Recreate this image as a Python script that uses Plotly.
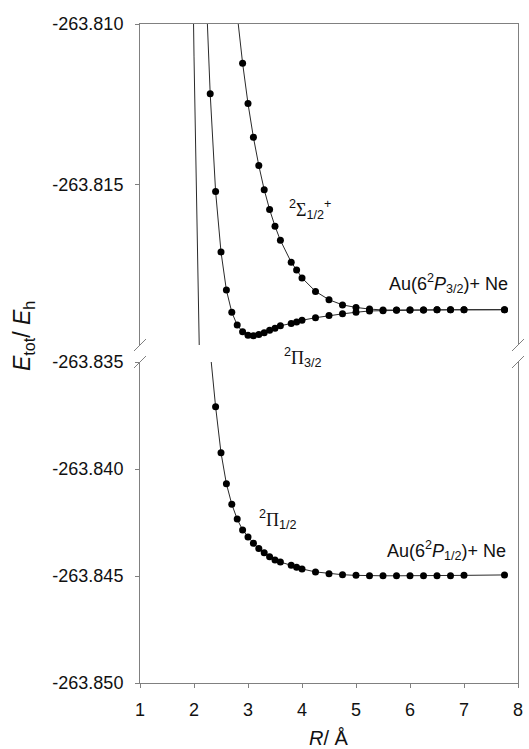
import plotly.graph_objects as go

# ---------------- data ----------------
R_pi32 = [2.3, 2.4, 2.5, 2.6, 2.7, 2.8, 2.9, 3.0, 3.1, 3.2, 3.3, 3.4, 3.5, 3.6, 3.8, 3.9, 4.0,
          4.25, 4.5, 4.75, 5.0, 5.25, 5.5, 5.75, 6.0, 6.25, 6.5, 6.75, 7.0, 7.75]
E_pi32 = [-263.81217, -263.81522, -263.81710, -263.81829, -263.81898, -263.81938, -263.81959,
          -263.81970, -263.81971, -263.81967, -263.81962, -263.81954, -263.81948, -263.81940,
          -263.81933, -263.81928, -263.81923, -263.81915, -263.81908, -263.81903, -263.81898,
          -263.81894, -263.81893, -263.81892, -263.81891, -263.81891, -263.81890, -263.81890,
          -263.81890, -263.81890]
R_pi32_wall = [2.2]
E_pi32_wall = [-263.8080]

R_sigma = [2.9, 3.0, 3.1, 3.2, 3.3, 3.4, 3.5, 3.6, 3.8, 3.9, 4.0, 4.25, 4.5, 4.75, 5.0, 5.25,
           5.5, 5.75, 6.0, 6.25, 6.5, 6.75, 7.0, 7.75]
E_sigma = [-263.81122, -263.81248, -263.81353, -263.81441, -263.81516, -263.81578, -263.81630,
           -263.81674, -263.81742, -263.81766, -263.81791, -263.81833, -263.81859, -263.81875,
           -263.81883, -263.81888, -263.81891, -263.81891, -263.81891, -263.81891, -263.81890,
           -263.81890, -263.81890, -263.81890]
R_sigma_wall = [2.8]
E_sigma_wall = [-263.8097]

R_pi12 = [2.4, 2.5, 2.6, 2.7, 2.8, 2.9, 3.0, 3.1, 3.2, 3.3, 3.4, 3.5, 3.6, 3.8, 3.9, 4.0,
          4.25, 4.5, 4.75, 5.0, 5.25, 5.5, 5.75, 6.0, 6.25, 6.5, 6.75, 7.0, 7.75]
E_pi12 = [-263.83709, -263.83924, -263.84069, -263.84165, -263.84234, -263.84285, -263.84318,
          -263.84347, -263.84371, -263.84391, -263.84410, -263.84425, -263.84435, -263.84450,
          -263.84459, -263.84467, -263.84481, -263.84489, -263.84494, -263.84497, -263.84499,
          -263.84499, -263.84499, -263.84499, -263.84499, -263.84499, -263.84499, -263.84497,
          -263.84495]
R_pi12_wall = [1.95, 2.0, 2.1, 2.2, 2.3]
E_pi12_wall = [-263.8050, -263.8110, -263.8203, -263.8286, -263.8345]

x_ticks = [1, 2, 3, 4, 5, 6, 7, 8]
x_ticktext = ["1", "2", "3", "4", "5", "6", "7", "8"]
y_top_ticks = [-263.815, -263.810]
y_top_ticktext = ["-263.815", "-263.810"]
y_bot_ticks = [-263.850, -263.845, -263.840, -263.835]
y_bot_ticktext = ["-263.850", "-263.845", "-263.840", "-263.835"]

# ---------------- figure ----------------
FONT = "Liberation Sans, Arial, sans-serif"
AXCOL = "#808080"
LINECOL = "#2a2a2a"

fig = go.Figure()

states = [
    (R_pi12_wall + R_pi12, E_pi12_wall + E_pi12, R_pi12, E_pi12),
    (R_pi32_wall + R_pi32, E_pi32_wall + E_pi32, R_pi32, E_pi32),
    (R_sigma_wall + R_sigma, E_sigma_wall + E_sigma, R_sigma, E_sigma),
]

for xa, ya in (("x", "y"), ("x2", "y2")):
    for lx, ly, mx, my in states:
        fig.add_trace(go.Scatter(x=lx, y=ly, mode="lines", xaxis=xa, yaxis=ya,
                                 line=dict(color=LINECOL, width=1), hoverinfo="skip",
                                 showlegend=False))
        fig.add_trace(go.Scatter(x=mx, y=my, mode="markers", xaxis=xa, yaxis=ya,
                                 marker=dict(color="black", size=7), showlegend=False))

top_dom = [(683 - 345) / 659, 1.0]
bot_dom = [0.0, (683 - 362) / 659]

common_y = dict(showline=True, linecolor=AXCOL, linewidth=1, mirror=True, ticks="outside",
                ticklen=4, tickcolor=AXCOL, showgrid=False, zeroline=False,
                tickfont=dict(family=FONT, size=18, color="#111"), ticklabelstandoff=8)

fig.update_layout(
    width=529, height=749,
    margin=dict(l=140, r=6, t=24, b=66),
    paper_bgcolor="white", plot_bgcolor="white",
    showlegend=False,
    font=dict(family=FONT, size=18, color="#111"),
    xaxis=dict(domain=[0, 1], range=[1, 8], anchor="y", showline=True, linecolor=AXCOL,
               linewidth=1, ticks="outside", ticklen=4, tickcolor=AXCOL, showgrid=False,
               zeroline=False, tickvals=x_ticks, ticktext=x_ticktext,
               tickfont=dict(family=FONT, size=18, color="#111"), ticklabelstandoff=6),
    xaxis2=dict(domain=[0, 1], range=[1, 8], anchor="y2", matches="x", side="top",
                showline=True, linecolor=AXCOL, linewidth=1, ticks="", showticklabels=False,
                showgrid=False, zeroline=False),
    yaxis=dict(domain=bot_dom, range=[-263.850, -263.835], anchor="x",
               tickvals=y_bot_ticks, ticktext=y_bot_ticktext, **common_y),
    yaxis2=dict(domain=top_dom, range=[-263.820, -263.810], anchor="x2",
                tickvals=y_top_ticks, ticktext=y_top_ticktext, **common_y),
)

# axis-break marks
for xp in (0, 1):
    for yp in (top_dom[0], bot_dom[1]):
        fig.add_shape(type="line", xref="paper", yref="paper",
                      xsizemode="pixel", ysizemode="pixel", xanchor=xp, yanchor=yp,
                      x0=-6, x1=6, y0=-6, y1=6, line=dict(color=AXCOL, width=1))

SERIF = "font-family:'Liberation Serif', 'Times New Roman', serif"
ann = [
    dict(text=f"<sup>2</sup><span style=\"{SERIF}\">Σ</span><sub>1/2</sub><sup>+</sup>",
         x=4.14, y=-263.81579, xref="x2", yref="y2", xanchor="center", yanchor="middle"),
    dict(text=f"<sup>2</sup><span style=\"{SERIF}\">Π</span><sub>3/2</sub>",
         x=4.02, y=(683 - 357) / 659, xref="x2", yref="paper", xanchor="center",
         yanchor="middle"),
    dict(text="Au(6<sup>2</sup><i>P</i><sub>3/2</sub>)+ Ne",
         x=7.85, y=-263.81807, xref="x2", yref="y2", xanchor="right", yanchor="middle"),
    dict(text=f"<sup>2</sup><span style=\"{SERIF}\">Π</span><sub>1/2</sub>",
         x=3.56, y=-263.84238, xref="x", yref="y", xanchor="center", yanchor="middle"),
    dict(text="Au(6<sup>2</sup><i>P</i><sub>1/2</sub>)+ Ne",
         x=7.82, y=-263.84379, xref="x", yref="y", xanchor="right", yanchor="middle"),
]
for a in ann:
    fig.add_annotation(showarrow=False, font=dict(family=FONT, size=18, color="#111"), **a)

# axis titles
fig.add_annotation(text="<i>R</i>/ Å", xref="paper", yref="paper", x=0.501, y=0,
                   yshift=-55, xanchor="center", yanchor="middle", showarrow=False,
                   font=dict(family=FONT, size=20, color="#111"))
fig.add_annotation(text="<i>E</i><sub>tot</sub>/ <i>E</i><sub>h</sub>", xref="paper",
                   yref="paper", x=0, xshift=-117, y=(683 - 336) / 659, textangle=-90,
                   xanchor="center", yanchor="middle", showarrow=False,
                   font=dict(family=FONT, size=23, color="#111"))

fig.write_html("out.html")
